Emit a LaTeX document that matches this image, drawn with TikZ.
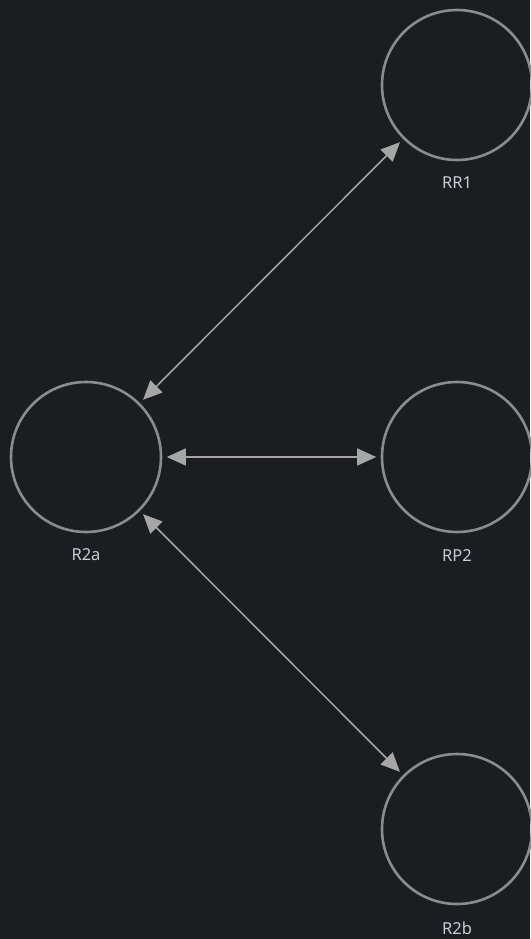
\documentclass[tikz,border=0pt]{standalone}
\usepackage{fontspec}
\setmainfont{Noto Sans}
\usetikzlibrary{arrows.meta}
\definecolor{bg}{HTML}{1B1D21}
\definecolor{ring}{HTML}{8C8C8C}
\definecolor{edge}{HTML}{A6A6A6}
\definecolor{txt}{HTML}{CACCD4}
\tikzset{
  ring/.style={circle, draw=ring, line width=2.6pt, minimum size=150pt, inner sep=0pt},
  lbl/.style={text=txt, font=\fontsize{16.5}{19}\selectfont, inner sep=0pt},
  conn/.style={draw=edge, line width=1.5pt, {Triangle[length=19pt,width=17pt]}-{Triangle[length=19pt,width=17pt]}, shorten <=4.5pt, shorten >=4.5pt}
}
\begin{document}
\begin{tikzpicture}[x=1pt,y=-1pt]
\fill[bg] (0,0) rectangle (530,939);
\useasboundingbox (0,0) rectangle (530,939);
\node[ring] (RR1) at (457,85) {};
\node[ring] (R2a) at (86,457) {};
\node[ring] (RP2) at (457,457) {};
\node[ring] (R2b) at (457,829) {};
\node[lbl] (lRR1) at (457,183) {RR1};
\node[lbl] (lR2a) at (86,555) {R2a};
\node[lbl] (lRP2) at (457,556) {RP2};
\node[lbl] (lR2b) at (457,928) {R2b};
\draw[conn] (R2a) -- (RR1);
\draw[conn] (R2a) -- (RP2);
\draw[conn] (R2a) -- (R2b);
\end{tikzpicture}
\end{document}
